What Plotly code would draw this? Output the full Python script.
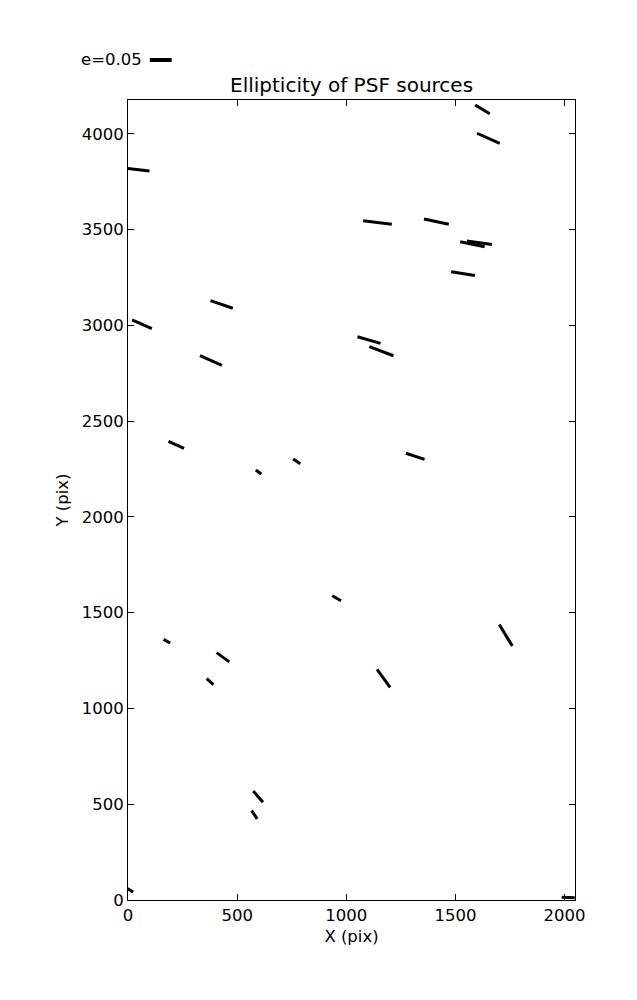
import math
import plotly.graph_objects as go

# PSF source data
x_pix = [49, 64, 429, 380, 1624, 1651, 1143, 1413, 1578, 1610, 1535, 1104, 1161,
         221, 598, 773, 178, 435, 956, 1316, 1731, 1171, 376, 596, 579, 10, 2017]
y_pix = [3812, 3005, 3109, 2816, 4127, 3976, 3537, 3541, 3423, 3431, 3270, 2923, 2865,
         2376, 2234, 2290, 1351, 1267, 1575, 2316, 1382, 1157, 1140, 540, 445, 51, 13]
ellip = [0.050, 0.0495, 0.054, 0.055, 0.039, 0.057, 0.066, 0.058, 0.057, 0.058, 0.055, 0.055, 0.059,
         0.039, 0.0155, 0.0195, 0.0175, 0.036, 0.023, 0.045, 0.058, 0.051, 0.021, 0.034, 0.023, 0.016, 0.030]
angle_deg = [-7, -24, -19, -24, -31, -24, -7, -12, -12, -8, -9, -16, -21,
             -24, -37, -34, -29, -36, -30, -18, -59, -54, -42, -49, -56, -30, -3]

key_e = 0.05
key_label = "e=0.05"
x_range = [0, 2048]
y_range = [0, 4176]
x_ticks = [0, 500, 1000, 1500, 2000]
y_ticks = [0, 500, 1000, 1500, 2000, 2500, 3000, 3500, 4000]

W, H = 637, 1000
ml, mr, mt, mb = 120, 70, 92, 108
pw, ph = W - ml - mr, H - mt - mb
sx = pw / (x_range[1] - x_range[0])
sy = ph / (y_range[1] - y_range[0])
aspect = sx / sy
scale = 2000.0  # whisker length in x-units per unit ellipticity

xs, ys = [], []
for x, y, e, a in zip(x_pix, y_pix, ellip, angle_deg):
    h = e * scale / 2
    t = math.radians(a)
    dx = h * math.cos(t)
    dy = h * math.sin(t) * aspect
    xs += [x - dx, x + dx, None]
    ys += [y - dy, y + dy, None]

fig = go.Figure()
fig.add_trace(go.Scatter(x=xs, y=ys, mode="lines",
                         line=dict(color="black", width=3), showlegend=False,
                         hoverinfo="skip"))

font = dict(family="DejaVu Sans", size=16.5, color="black")
axis_common = dict(showgrid=False, zeroline=False, showline=True, linecolor="black",
                   linewidth=1, mirror="ticks", ticks="inside", ticklen=6,
                   tickcolor="black", tickfont=font)
fig.update_xaxes(range=x_range, tickvals=x_ticks, ticktext=[str(v) for v in x_ticks],
                 title=dict(text="X (pix)", font=font, standoff=6), **axis_common)
fig.update_yaxes(range=y_range, tickvals=y_ticks, ticktext=[str(v) for v in y_ticks],
                 title=dict(text="Y (pix)", font=font, standoff=8), **axis_common)

key_len = key_e * scale / (x_range[1] - x_range[0])
key_x0 = 100 / (x_range[1] - x_range[0])
fig.add_shape(type="line", xref="paper", yref="paper",
              x0=key_x0, x1=key_x0 + key_len, y0=1.05, y1=1.05,
              line=dict(color="black", width=4))
fig.add_annotation(text=key_label, xref="paper", yref="paper", x=key_x0 - 0.013, y=1.05,
                   xanchor="right", yanchor="middle", showarrow=False, font=font)
fig.add_annotation(text="Ellipticity of PSF sources", xref="paper", yref="paper",
                   x=0.5, y=1.0, yshift=1, xanchor="center", yanchor="bottom",
                   showarrow=False, font=dict(family="DejaVu Sans", size=20, color="black"))

fig.update_layout(width=W, height=H, margin=dict(l=ml, r=mr, t=mt, b=mb),
                  plot_bgcolor="white", paper_bgcolor="white")
fig.write_html("out.html")
